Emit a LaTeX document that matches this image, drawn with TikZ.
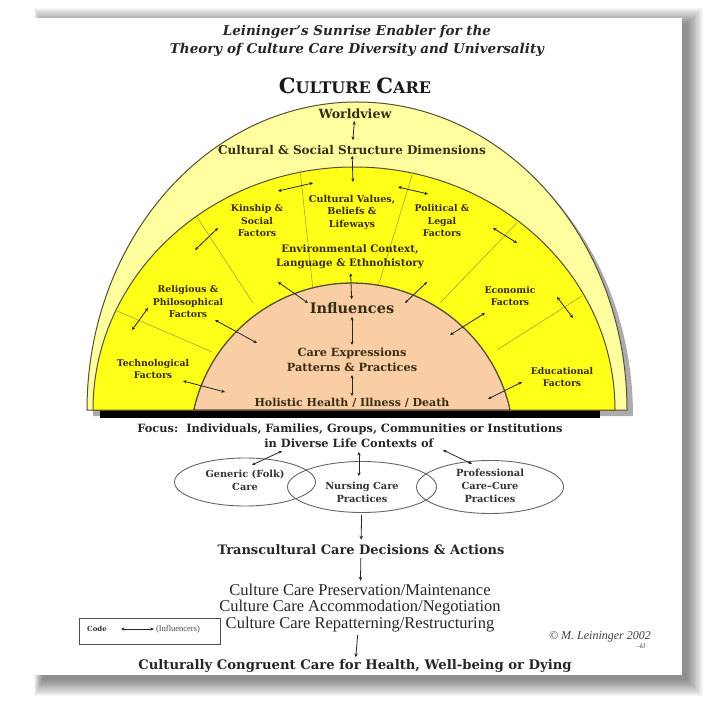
\documentclass[tikz,border=0pt]{standalone}
\usepackage{fontspec}
\setmainfont{DejaVu Serif}
\newfontfamily\timesfont{Liberation Serif}
\usepackage{tikz}
\usetikzlibrary{shapes.geometric,arrows.meta,positioning}
\definecolor{inktext}{RGB}{55,45,20}
\definecolor{outeryellow}{RGB}{255,255,160}
\definecolor{ringyellow}{RGB}{255,255,25}
\definecolor{peachfill}{RGB}{249,206,164}
\definecolor{rimline}{RGB}{85,80,50}
\definecolor{spokeline}{RGB}{165,165,55}
\tikzset{
  titletext/.style={font=\bfseries\itshape\fontsize{13.5}{15}\selectfont, text=black!85},
  headtext/.style={font=\bfseries\fontsize{12}{14}\selectfont, text=inktext, align=center, inner sep=1pt},
  factortext/.style={font=\bfseries\fontsize{9.3}{12.5}\selectfont, text=inktext, align=center, inner sep=1pt},
  corettext/.style={font=\bfseries\fontsize{11.3}{15}\selectfont, text=inktext, align=center, inner sep=1pt},
  ovaltext/.style={font=\bfseries\fontsize{9.8}{13}\selectfont, text=black!80, align=center, inner sep=0pt},
  careoval/.style={ellipse, draw=black!60, line width=0.9},
  modetext/.style={font=\timesfont\fontsize{16.5}{16.5}\selectfont, text=black!85, align=center, inner sep=1pt},
  dblarrow/.style={{Stealth[length=3.5pt,width=3.2pt]}-{Stealth[length=3.5pt,width=3.2pt]}, line width=0.8, black!85},
  onearrow/.style={-{Stealth[length=4pt,width=3.5pt]}, line width=0.8, black!85},
}

\begin{document}
\begin{tikzpicture}[x=1pt,y=1pt,yscale=-1,xscale=1]
		\useasboundingbox (0,0) rectangle (720,708);
		\fill[white] (0,0) rectangle (720,708);
		
		% Page shadow
		\foreach \k in {0,...,16}
		  \fill[black, opacity=0.03] (42-0.5*\k,24-\k) rectangle (687+\k,680+\k);
		\fill[white] (33,18) rectangle (682,675);
		
		% Sunrise shadow
		\fill[gray!65] (93,416) arc[start angle=180, end angle=360, x radius=270, y radius=308] -- cycle;
		\fill[black] (100,410) rectangle (600,418);
		
		% Outer ring
		\draw[fill=outeryellow, draw=rimline, line width=1] (87,410) arc[start angle=180, end angle=360, x radius=270, y radius=308] -- cycle;
		% Middle ring
		\draw[fill=ringyellow, draw=rimline, line width=1] (93,410) arc[start angle=180, end angle=360, x radius=261, y radius=243] -- cycle;
		% Spokes
		\draw[spokeline, line width=0.6] (300,170) -- (313,290);
		\draw[spokeline, line width=0.6] (413,172) -- (377,290);
		\draw[spokeline, line width=0.6] (197,217) -- (253,303);
		\draw[spokeline, line width=0.6] (115,310) -- (212,352);
		\draw[spokeline, line width=0.6] (517,223) -- (440,303);
		\draw[spokeline, line width=0.6] (582,296) -- (497,350);
		% Inner half disc
		\draw[fill=peachfill, draw=rimline, line width=1.3] (193.8,410) arc[start angle=192.5, end angle=347.5, radius=162] -- cycle;
		
		% Text Node
		\node[titletext] (title1) at (357,32) {Leininger’s Sunrise Enabler for the};
		\node[titletext] (title2) at (357,50) {Theory of Culture Care Diversity and Universality};
		% Text Node
		\node[font=\bfseries\fontsize{16}{17}\selectfont, text=black!90] (culturecare) at (355,86) {{\fontsize{21}{21}\selectfont C}ULTURE {\fontsize{21}{21}\selectfont C}ARE};
		% Text Node
		\node[headtext, font=\bfseries\fontsize{12.6}{14}\selectfont] (worldview) at (355,114) {Worldview};
		\node[headtext] (dimensions) at (352,150) {Cultural \& Social Structure Dimensions};
		% Text Node
		\node[factortext, font=\bfseries\fontsize{9.6}{12.5}\selectfont] (values) at (352,212) {Cultural Values,\\Beliefs \&\\Lifeways};
		\node[factortext] (kinship) at (257,221) {Kinship \&\\Social\\Factors};
		\node[factortext] (political) at (442,221) {Political \&\\Legal\\Factors};
		\node[factortext, font=\bfseries\fontsize{10.3}{14}\selectfont] (environment) at (350,257) {Environmental Context,\\Language \& Ethnohistory};
		\node[factortext] (religious) at (188,302) {Religious \&\\Philosophical\\Factors};
		\node[factortext] (economic) at (510,296) {Economic\\Factors};
		\node[factortext] (technological) at (153,369) {Technological\\Factors};
		\node[factortext] (educational) at (562,377) {Educational\\Factors};
		% Text Node
		\node[corettext, font=\bfseries\fontsize{14.5}{15}\selectfont] (influences) at (352,308) {Influences};
		\node[corettext] (expressions) at (352,360) {Care Expressions\\Patterns \& Practices};
		\node[corettext, font=\bfseries\fontsize{11}{12}\selectfont] (holistic) at (352,403) {Holistic Health / Illness / Death};
		
		% Connection
		\draw[dblarrow, shorten <=1pt, shorten >=4pt] (worldview) -- (dimensions);
		\coordinate (ringtop) at (353,182);
		\draw[dblarrow] (dimensions) -- (ringtop);
		\coordinate (kinU1) at (278,191); \coordinate (kinU2) at (313,183);
		\draw[dblarrow] (kinU1) -- (kinU2);
		\coordinate (polU1) at (398,187); \coordinate (polU2) at (428,194);
		\draw[dblarrow] (polU1) -- (polU2);
		\coordinate (kinL1) at (195,250); \coordinate (kinL2) at (218,228);
		\draw[dblarrow] (kinL1) -- (kinL2);
		\coordinate (polR1) at (493,228); \coordinate (polR2) at (517,243);
		\draw[dblarrow] (polR1) -- (polR2);
		\coordinate (relL1) at (132,330); \coordinate (relL2) at (148,308);
		\draw[dblarrow] (relL1) -- (relL2);
		\coordinate (ecoR1) at (557,297); \coordinate (ecoR2) at (573,318);
		\draw[dblarrow] (ecoR1) -- (ecoR2);
		% Connection
		\coordinate (envL1) at (278,282); \coordinate (envL2) at (308,303);
		\draw[dblarrow] (envL1) -- (envL2);
		\coordinate (envR1) at (427,282); \coordinate (envR2) at (405,303);
		\draw[dblarrow] (envR1) -- (envR2);
		\draw[dblarrow, shorten <=3pt, shorten >=2pt] (environment) -- (influences);
		\coordinate (relP1) at (215,320); \coordinate (relP2) at (257,343);
		\draw[dblarrow] (relP1) -- (relP2);
		\coordinate (ecoP1) at (485,313); \coordinate (ecoP2) at (450,335);
		\draw[dblarrow] (ecoP1) -- (ecoP2);
		\coordinate (techP1) at (183,381); \coordinate (techP2) at (225,392);
		\draw[dblarrow] (techP1) -- (techP2);
		\coordinate (eduP1) at (522,382); \coordinate (eduP2) at (488,399);
		\draw[dblarrow] (eduP1) -- (eduP2);
		\draw[dblarrow, shorten <=2pt, shorten >=2pt] (influences) -- (expressions);
		\draw[dblarrow, shorten <=2pt, shorten >=1pt] (expressions) -- (holistic);
		
		% Text Node
		\node[headtext, font=\bfseries\fontsize{11.4}{12}\selectfont, text=black!85] (focus) at (350,429) {Focus:\ \ Individuals, Families, Groups, Communities or Institutions};
		\node[headtext, font=\bfseries\fontsize{11.4}{12}\selectfont, text=black!85] (contexts) at (349,443) {in Diverse Life Contexts of};
		% Text Node
		\node[careoval, minimum width=141, minimum height=48] (generic) at (245,482) {};
		\node[careoval, minimum width=149, minimum height=51] (nursing) at (362,487) {};
		\node[careoval, minimum width=147, minimum height=53] (professional) at (490,487) {};
		\node[ovaltext] (generictext) at (245,480) {Generic (Folk)\\Care};
		\node[ovaltext] (nursingtext) at (362,492) {Nursing Care\\Practices};
		\node[ovaltext] (professionaltext) at (490,486) {Professional\\Care–Cure\\Practices};
		% Connection
		\coordinate (ctxG1) at (282,451); \coordinate (ctxG2) at (252,465);
		\draw[dblarrow] (ctxG1) -- (ctxG2);
		\coordinate (ctxN1) at (359,452); \coordinate (ctxN2) at (359,476);
		\draw[dblarrow] (ctxN1) -- (ctxN2);
		\coordinate (ctxP1) at (443,450); \coordinate (ctxP2) at (472,464);
		\draw[dblarrow] (ctxP1) -- (ctxP2);
		
		% Text Node
		\node[headtext, font=\bfseries\fontsize{13}{14}\selectfont, text=black!85] (decisions) at (361,550) {Transcultural Care Decisions \& Actions};
		\node[modetext] (modes) at (360,608) {Culture Care Preservation/Maintenance\\Culture Care Accommodation/Negotiation\\Culture Care Repatterning/Restructuring};
		\node[headtext, font=\bfseries\fontsize{13.2}{14}\selectfont, text=black!85] (congruent) at (355,666) {Culturally Congruent Care for Health, Well-being or Dying};
		% Connection
		\draw[onearrow, shorten <=2pt, shorten >=4pt] (nursing) -- (decisions);
		\draw[onearrow, shorten <=2pt, shorten >=2pt] (decisions) -- (modes);
		\draw[onearrow, shorten <=2pt, shorten >=1pt] (modes) -- (congruent);
		
		% Text Node
		\node[draw=black!70, line width=0.8, minimum width=141, minimum height=26] (codebox) at (149.5,631) {};
		\node[font=\bfseries\fontsize{7}{8}\selectfont, text=black!80, inner sep=1pt] (codeword) at (97,629) {Code};
		\node[font=\timesfont\fontsize{8.5}{9}\selectfont, text=black!70, inner sep=1pt] (codeinfl) at (178,629) {(Influencers)};
		\draw[dblarrow, line width=0.7, shorten <=13pt, shorten >=1pt] (codeword) -- (codeinfl);
		% Text Node
		\node[font=\timesfont\itshape\fontsize{12}{12}\selectfont, text=black!75] (copyright) at (600,637) {© M. Leininger 2002};
		\node[font=\timesfont\itshape\fontsize{7}{7}\selectfont, text=black!75] (initials) at (641,646) {–kl};
		
\end{tikzpicture}
\end{document}
